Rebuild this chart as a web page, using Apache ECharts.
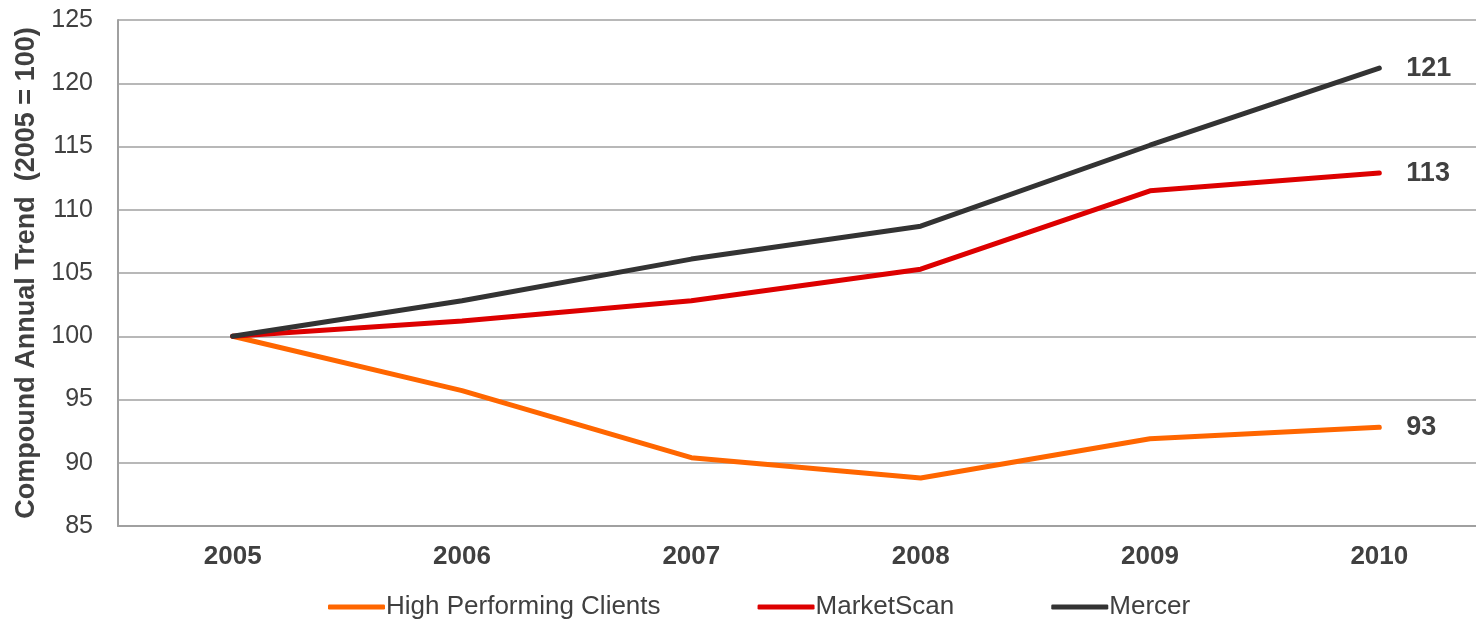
<!DOCTYPE html>
<html>
<head>
<meta charset="utf-8">
<script src="https://cdn.jsdelivr.net/npm/echarts@6/dist/echarts.min.js"></script>
<style>
  html, body { margin: 0; padding: 0; background: #fff; }
  #chart { width: 1476px; height: 620px; }
</style>
</head>
<body>
<div id="chart"></div>
<script>
const years = ['2005', '2006', '2007', '2008', '2009', '2010']
const highPerforming = [100, 95.7, 90.4, 88.8, 91.9, 92.8]
const marketScan = [100, 101.2, 102.8, 105.3, 111.5, 112.9]
const mercer = [100, 102.8, 106.1, 108.7, 115.1, 121.2]
const yTicks = { min: 85, max: 125, step: 5 }

const textColor = '#404040'
const fontFamily = 'Arial, "Liberation Sans", sans-serif'

function lineSeries (name, data, color) {
  return {
    name: name,
    type: 'line',
    data: data,
    symbol: 'none',
    color: color,
    lineStyle: { width: 5, color: color, cap: 'round' },
    endLabel: {
      show: true,
      distance: 27,
      formatter: p => Math.round(p.value),
      fontFamily: fontFamily,
      fontWeight: 'bold',
      fontSize: 27,
      color: textColor
    }
  }
}

const chart = echarts.init(document.getElementById('chart'))
chart.setOption({
  backgroundColor: '#fff',
  animation: false,
  textStyle: { fontFamily: fontFamily },
  grid: { left: 118, top: 20, right: -18, bottom: 94, outerBoundsMode: 'none', containLabel: false },
  legend: {
    left: 323,
    top: 589,
    itemWidth: 57,
    itemHeight: 5,
    itemGap: 97,
    icon: 'roundRect',
    textStyle: { fontSize: 26, color: textColor, fontFamily: fontFamily, padding: [0, 0, 0, -4] },
    data: ['High Performing Clients', 'MarketScan', 'Mercer']
  },
  xAxis: {
    type: 'category',
    data: years,
    boundaryGap: true,
    axisLine: { lineStyle: { color: '#a0a0a0', width: 2 } },
    axisTick: { show: false },
    axisLabel: { fontSize: 26, fontWeight: 'bold', color: textColor, margin: 18 }
  },
  yAxis: {
    type: 'value',
    min: yTicks.min,
    max: yTicks.max,
    interval: yTicks.step,
    name: 'Compound Annual Trend  (2005 = 100)',
    nameLocation: 'middle',
    nameGap: 76,
    nameTextStyle: { fontSize: 27, fontWeight: 'bold', color: textColor },
    axisLine: { show: true, lineStyle: { color: '#a0a0a0', width: 2 } },
    axisTick: { show: false },
    axisLabel: { fontSize: 25, color: textColor, margin: 25 },
    splitLine: { lineStyle: { color: '#a0a0a0', width: 1.5 } }
  },
  series: [
    lineSeries('High Performing Clients', highPerforming, '#ff6600'),
    lineSeries('MarketScan', marketScan, '#dd0000'),
    lineSeries('Mercer', mercer, '#333333')
  ]
})
</script>
</body>
</html>
